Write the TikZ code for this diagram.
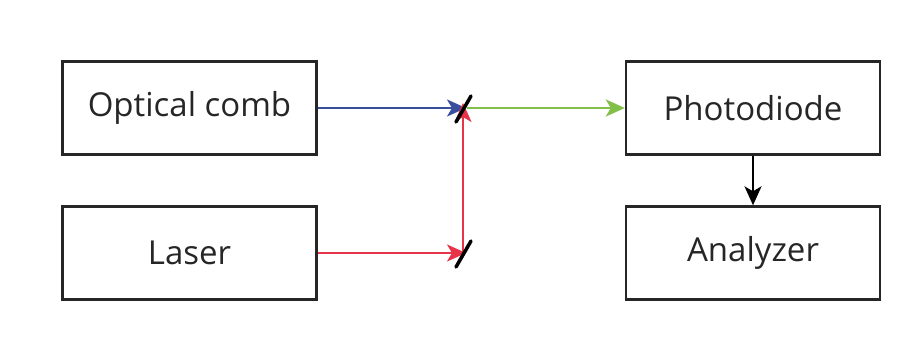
\documentclass[tikz,border=0pt]{standalone}
\usepackage{fontspec}
\setmainfont{Open Sans}
\usetikzlibrary{arrows.meta}
\definecolor{beamblue}{RGB}{58,78,158}
\definecolor{beamred}{RGB}{232,52,72}
\definecolor{beamgreen}{RGB}{128,192,72}
\begin{document}
\begin{tikzpicture}[x=1pt,y=-1pt,
  block/.style={draw=black!85,line width=2.4pt,minimum width=254pt,minimum height=93pt,
    inner sep=0pt,font=\fontsize{33}{38}\selectfont,text=black!85},
  beam/.style={line width=2.2pt,-{Stealth[length=19pt,width=17pt,inset=5pt]}},
  mirror/.style={line width=3.5pt,black,line cap=round}]
\useasboundingbox (0,0) rectangle (918,338);
\fill[white] (0,0) rectangle (918,338);
\node[block] (comb)  at (189.5,108) {Optical comb};
\node[block] (laser) at (189.5,253) {Laser};
\node[block] (pd)    at (753,108)   {Photodiode};
\node[block] (ana)   at (753,253)   {Analyzer};
\coordinate (m1) at (463,108);
\coordinate (m2) at (463,253);
% beams
\draw[beam,beamblue] (comb.east) -- ([xshift=3pt]m1);
\draw[beam,beamred] (laser.east) -- ([xshift=3pt]m2);
\draw[beam,beamred] (m2) -- ([yshift=5pt]m1);
\draw[beam,beamgreen] ([xshift=4pt]m1) -- (pd.west);
\draw[beam,black] (pd.south) -- (ana.north);
% beam splitters
\draw[mirror] ([shift={(-7,14)}]m1) -- ([shift={(8,-12)}]m1);
\draw[mirror] ([shift={(-7,14)}]m2) -- ([shift={(8,-12)}]m2);
\end{tikzpicture}
\end{document}
